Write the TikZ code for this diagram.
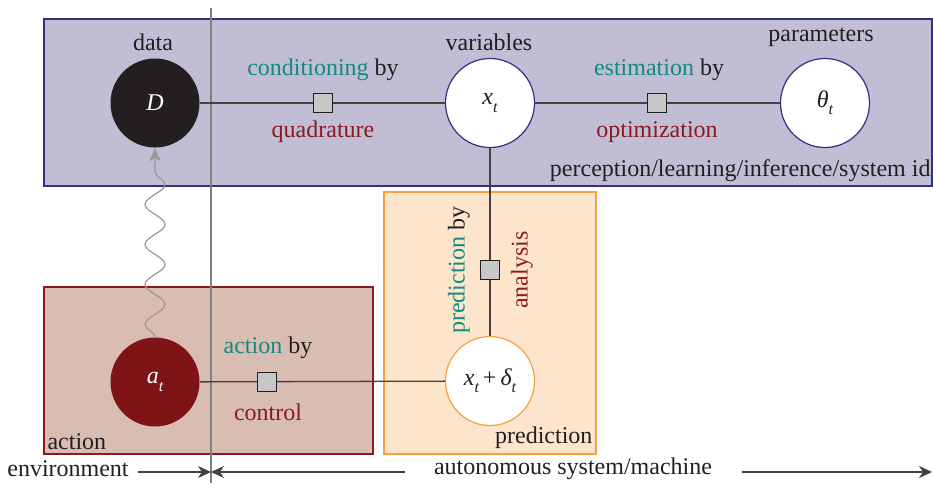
\documentclass[tikz,border=0pt]{standalone}
\usepackage{fontspec}
\setmainfont{Liberation Serif}
\usetikzlibrary{arrows.meta,decorations.pathmorphing}
\definecolor{bluefill}{HTML}{C0BDD4}
\definecolor{blueline}{HTML}{2E3184}
\definecolor{redfill}{HTML}{D9BDB2}
\definecolor{redline}{HTML}{8B1A1F}
\definecolor{orfill}{HTML}{FDE5CC}
\definecolor{orline}{HTML}{F7A040}
\definecolor{darkred}{HTML}{7F1416}
\definecolor{teal}{HTML}{138A80}
\definecolor{txtred}{HTML}{8B1A1F}
\definecolor{txt}{HTML}{231F20}
\newcommand{\sub}[1]{\raisebox{-0.3em}{\fontsize{16}{16}\selectfont\itshape #1}}
\begin{document}
\begin{tikzpicture}[x=1pt,y=-1pt,
  every node/.style={font=\fontsize{24}{28}\selectfont, text=txt},
  varnode/.style={circle, minimum size=89pt, inner sep=0pt, line width=1.2pt},
  factorbox/.style={draw=txt, fill=black!22, minimum size=19pt, inner sep=0pt, line width=1.3pt},
  edge/.style={draw=txt!85, line width=1.3pt},
  region/.style={line width=1.3pt},
  axisarrow/.style={draw=txt!85, line width=1.3pt, -{Stealth[length=13pt,width=12pt,inset=4pt]}}
]
\useasboundingbox (0,0) rectangle (933,483);
% regions
\fill[bluefill] (44,19) rectangle (932,186);
\draw[blueline, region] (44,19) rectangle (932,186);
\filldraw[fill=redfill, draw=redline, region] (44,287) rectangle (373,454);
\filldraw[fill=orfill, draw=orline, region] (384,192) rectangle (596,454);
% boundary line
\draw[black!50, line width=1.5pt] (211,8) -- (211,483);
% nodes
\node[varnode, fill=txt] (D) at (155,103) {\textcolor{white}{\itshape D}};
\node[varnode, fill=white, draw=blueline] (x) at (490,103) {{\itshape x}\sub{t}};
\node[varnode, fill=white, draw=blueline] (th) at (825,103) {{\itshape θ}\sub{t}};
\node[varnode, fill=darkred] (a) at (155,382) {\textcolor{white}{{\itshape a}\sub{t}}};
\node[varnode, fill=white, draw=orline] (xd) at (490,381) {{\itshape x}\sub{t}\,+\,{\itshape δ}\sub{t}};
% edges
\draw[edge] (D) -- (x) -- (th);
\draw[edge] (x) -- (xd);
\draw[edge] (a) -- (xd);
% factor boxes
\node[factorbox] (f1) at (323,103) {};
\node[factorbox] (f2) at (657,103) {};
\node[factorbox] (f3) at (490,270) {};
\node[factorbox] (f4) at (267,382) {};
% wavy arrow
\draw[black!40, line width=1.2pt, decorate,
  decoration={snake, amplitude=10pt, segment length=40pt, post length=14pt},
  -{Stealth[length=13pt,width=11pt,inset=3pt]}] (a.north) -- (D.south);
% labels
\node (ldata) at (153,42) {data};
\node (lvar) at (489,42) {variables};
\node (lpar) at (821,37) {parameters};
\node (lcond) at (323,70) {\textcolor{teal}{conditioning} by};
\node (lquad) at (323,132) {\textcolor{txtred}{quadrature}};
\node (lest) at (659,70) {\textcolor{teal}{estimation} by};
\node (lopt) at (657,132) {\textcolor{txtred}{optimization}};
\node[anchor=east] (lperc) at (934,171) {perception/learning/inference/system id};
\node (lact) at (268,348) {\textcolor{teal}{action} by};
\node (lctl) at (268,412) {\textcolor{txtred}{control}};
\node[anchor=west] (laction) at (44,442) {action};
\node[rotate=90] (lpred) at (459,270) {\textcolor{teal}{prediction} by};
\node[rotate=90] (lana) at (522,270) {\textcolor{txtred}{analysis}};
\node[anchor=east] (lprediction) at (596,438) {prediction};
\node (lenv) at (68,469) {environment};
\node (laut) at (573,469) {autonomous system/machine};
\coordinate (bnd) at (211,472);
\coordinate (e1) at (138,472);
\coordinate (e2) at (405,472);
\coordinate (e3) at (742,472);
\coordinate (e4) at (932,472);
\draw[axisarrow] (e1) -- (bnd);
\draw[axisarrow] (e2) -- (bnd);
\draw[axisarrow] (e3) -- (e4);
\end{tikzpicture}
\end{document}
